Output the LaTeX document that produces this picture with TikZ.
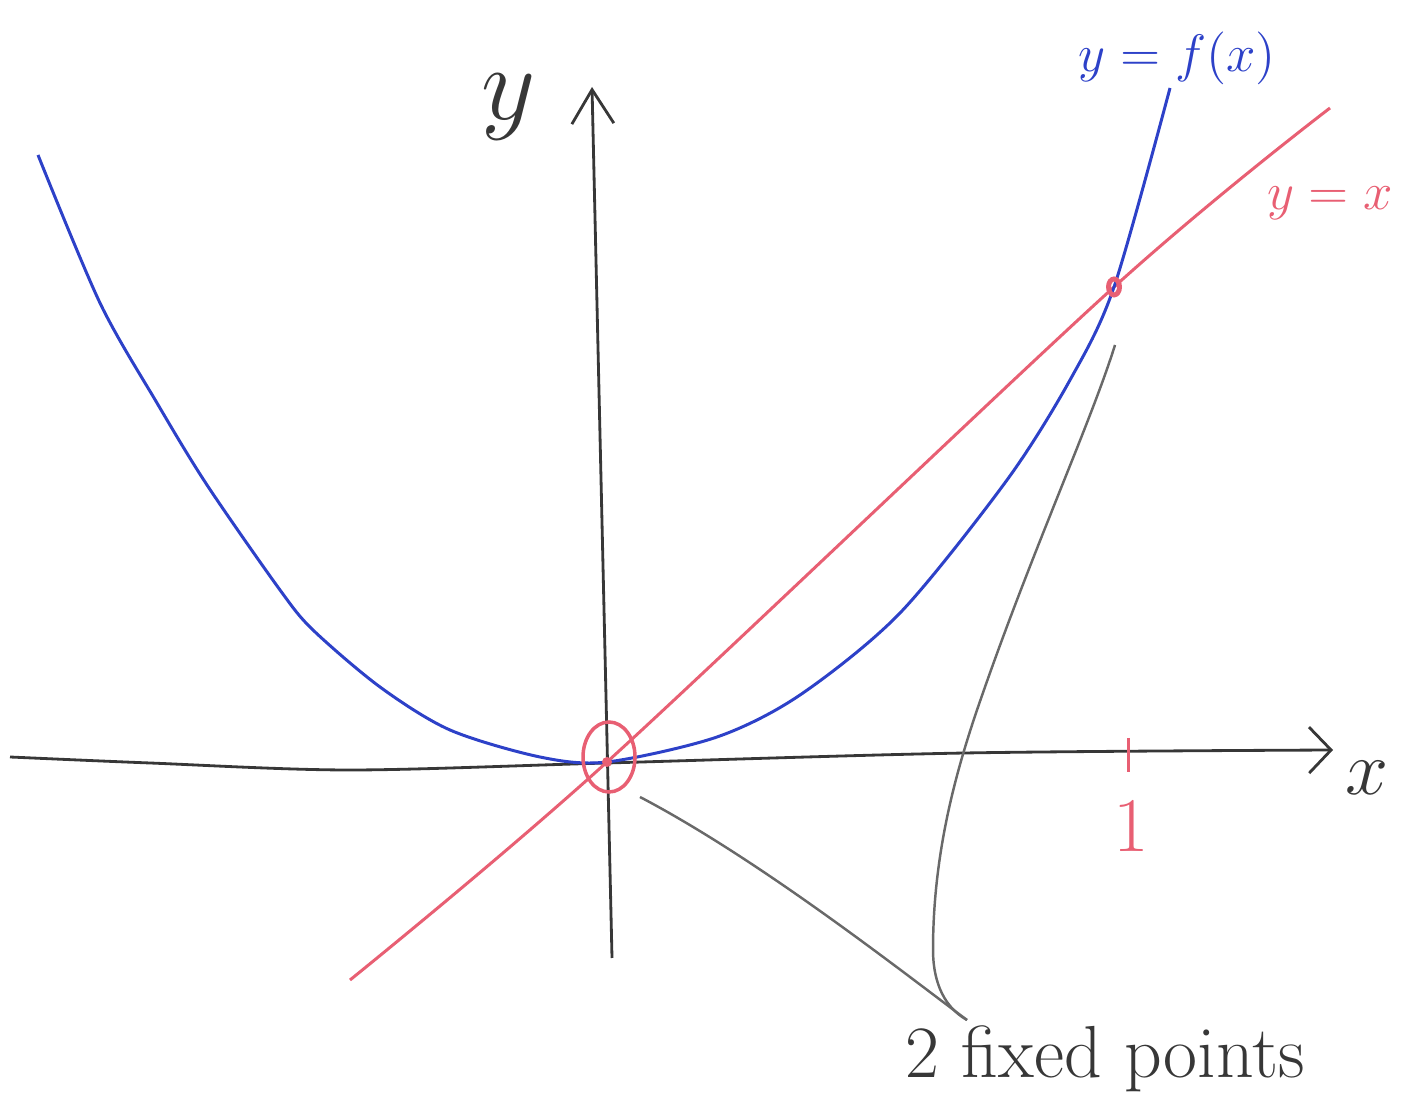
\RequirePackage{fix-cm}
\documentclass[tikz,border=0pt]{standalone}
\usepackage{tikz}
\usetikzlibrary{positioning,calc}
\usetikzlibrary{arrows.meta}
\definecolor{PenBlue}{RGB}{45,65,200}
\definecolor{PenRed}{RGB}{232,95,115}
\definecolor{PenGray}{RGB}{105,105,105}
\definecolor{PenBlack}{RGB}{55,55,55}

\begin{document}
\begin{tikzpicture}[
		axis/.style={draw=PenBlack,line width=0.8pt},
		fcurve/.style={draw=PenBlue,line width=0.85pt},
		idline/.style={draw=PenRed,line width=0.85pt},
		pointer/.style={draw=PenGray,line width=0.7pt},
		penlabel/.style={inner sep=1pt}
	]
	\useasboundingbox (0,0) rectangle (14.07,11.15);
	
	\coordinate (O) at (6.07,3.53);
	\coordinate (P) at (11.14,8.28);
	
	% axes
	\draw[axis,-{Straight Barb[length=2.2mm,width=4.6mm]}] plot[smooth] coordinates
	{(0.10,3.58) (1.50,3.52) (3.50,3.45) (6.07,3.52) (9.65,3.62) (13.33,3.65)};
	\draw[axis,-{Straight Barb[length=3.4mm,width=4.2mm]}] (6.12,1.57) -- (5.92,10.28);
	\node[penlabel,text=PenBlack,font=\fontsize{30}{34}\selectfont] (ly) at (5.09,10.08) {$y$};
	\node[penlabel,text=PenBlack,font=\fontsize{22}{26}\selectfont] (lx) at (13.67,3.37) {$x$};
	
	% tick at 1
	\draw[idline] (11.28,3.77) -- (11.28,3.43);
	\node[penlabel,text=PenRed,font=\fontsize{22}{26}\selectfont] (lone) at (11.31,2.88) {$1$};
	
	% y = x
	\draw[idline] plot[smooth] coordinates {(3.50,1.35) (O) (P) (13.30,10.07)};
	\node[penlabel,text=PenRed,font=\fontsize{15}{18}\selectfont] (lid) at (13.30,9.12) {$y=x$};
	
	% y = f(x)
	\draw[fcurve] plot[smooth] coordinates
	{(0.38,9.60) (1.00,8.12) (1.57,7.12) (2.07,6.30) (2.80,5.25) (3.13,4.85)
		(3.80,4.28) (4.50,3.85) (5.40,3.58) (O)
		(7.17,3.78) (8.00,4.20) (9.00,5.02) (10.07,6.35) (10.70,7.35) (P) (11.70,10.27)};
	\node[penlabel,text=PenBlue,font=\fontsize{15}{18}\selectfont] (lf) at (11.77,10.57) {$y=f(x)$};
	
	% fixed points
	\draw[idline,line width=1pt] (6.09,3.58) ellipse (0.26 and 0.35);
	\fill[PenRed] (O) circle (0.05);
	\draw[idline,line width=1.4pt] (P) ellipse (0.055 and 0.08);
	
	\node[penlabel,text=PenBlack,anchor=base,font=\fontsize{21}{25}\selectfont] (fp) at (11.05,0.38) {2 fixed points};
	\coordinate (hook) at (9.67,0.95);
	\coordinate (c1) at (6.40,3.18);
	\coordinate (c2) at (11.15,7.70);
	\draw[pointer] (hook) .. controls (9.00,1.45) and (7.60,2.55) .. (c1);
	\draw[pointer] (hook) .. controls (9.40,1.10) and (9.33,1.40) .. (9.33,1.65)
	.. controls (9.33,2.60) and (9.55,3.40) .. (9.77,4.05)
	.. controls (10.30,5.60) and (10.90,6.90) .. (c2);
\end{tikzpicture}
\end{document}
